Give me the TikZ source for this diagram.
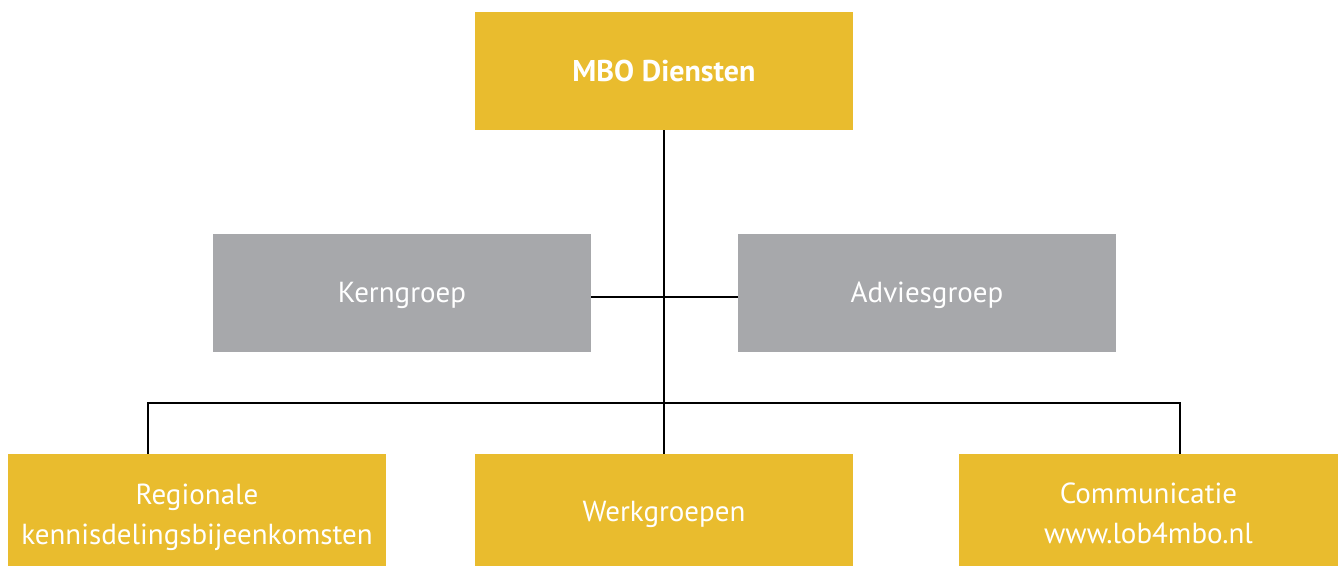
\documentclass[tikz,border=0pt]{standalone}
\usepackage{fontspec}
\setmainfont{PT Sans}
\definecolor{mboyellow}{HTML}{E9BC2E}
\definecolor{mbogray}{HTML}{A7A8AB}
\begin{document}
\begin{tikzpicture}[x=1pt,y=-1pt,
  box/.style={minimum width=378pt,minimum height=118pt,inner sep=0pt,text=white,align=center,
    font=\fontsize{29}{40}\selectfont},
  ybox/.style={box,fill=mboyellow},
  gbox/.style={box,fill=mbogray},
  lbl/.style={text=white,align=center,inner sep=0pt,font=\fontsize{29}{40}\selectfont},
  conn/.style={draw=black,line width=2.6pt}]
\useasboundingbox (0,0) rectangle (1338,566);
\node[ybox] (top) at (664,71) {};
\node[lbl,font=\fontsize{30}{40}\selectfont\bfseries] (toplbl) at (664,71) {MBO Diensten};
\node[gbox] (kern) at (402,293) {};
\node[lbl] (kernlbl) at (402,295) {Kerngroep};
\node[gbox] (advies) at (927,293) {};
\node[lbl] (advieslbl) at (927,295) {Adviesgroep};
\node[ybox,minimum height=112pt] (reg) at (197,510) {};
\node[lbl] (reglbl) at (197,517) {Regionale\\kennisdelingsbijeenkomsten};
\node[ybox,minimum height=112pt] (werk) at (664,510) {};
\node[lbl] (werklbl) at (664,514) {Werkgroepen};
\node[ybox,minimum height=112pt,minimum width=379pt] (comm) at (1148.5,510) {};
\node[lbl] (commlbl) at (1148.5,513) {Communicatie\\www.lob4mbo.nl};
\coordinate (hub) at (664,403);
\coordinate (kernj) at (kern.east |- 0,297);
\coordinate (adviesj) at (advies.west |- 0,297);
\coordinate (regj) at (148,454);
\coordinate (commj) at (1180,454);
\draw[conn] (top.south) -- (werk.north);
\draw[conn] (kernj) -- (adviesj);
\draw[conn] (regj) |- (hub) -| (commj);
\end{tikzpicture}
\end{document}
